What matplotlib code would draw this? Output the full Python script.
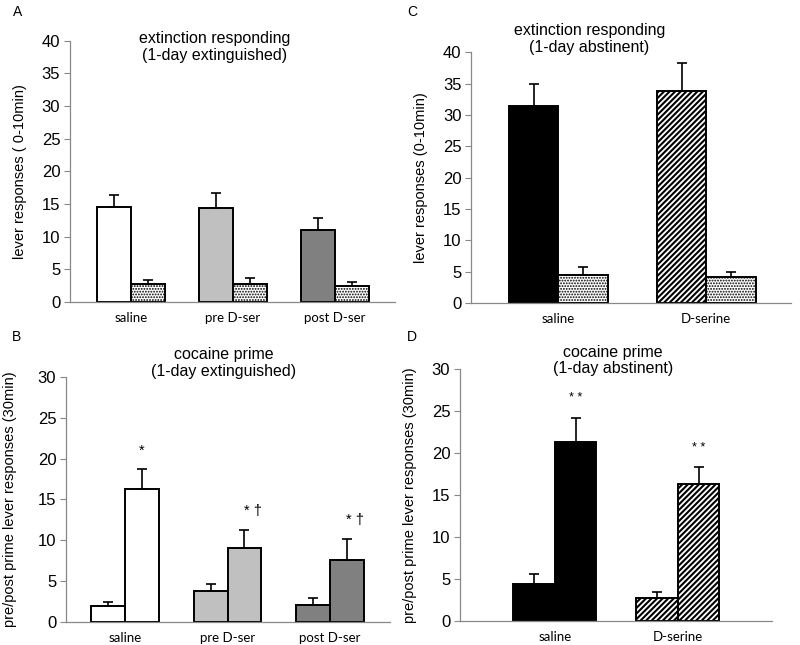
import matplotlib
matplotlib.use("Agg")
import matplotlib.pyplot as plt
import numpy as np

plt.rcParams['font.family'] = ['Liberation Sans', 'DejaVu Sans']
plt.rcParams['hatch.linewidth'] = 1.0

# ---- data ----
A_groups = ["saline", "pre D-ser", "post D-ser"]
A_active = [14.6, 14.4, 11.0]
A_active_err = [1.8, 2.2, 1.8]
A_inactive = [2.8, 2.8, 2.4]
A_inactive_err = [0.6, 0.8, 0.7]

C_groups = ["saline", "D-serine"]
C_active = [31.5, 33.9]
C_active_err = [3.4, 4.4]
C_inactive = [4.5, 4.2]
C_inactive_err = [1.2, 0.8]

B_groups = ["saline", "pre D-ser", "post D-ser"]
B_pre = [1.9, 3.8, 2.1]
B_pre_err = [0.6, 0.9, 0.8]
B_post = [16.3, 9.1, 7.6]
B_post_err = [2.4, 2.2, 2.6]
B_marks = ["*", "* \u2020", "* \u2020"]

D_groups = ["saline", "D-serine"]
D_pre = [4.4, 2.7]
D_pre_err = [1.2, 0.8]
D_post = [21.3, 16.3]
D_post_err = [2.9, 2.0]
D_marks = ["* *", "* *"]

A_colors = ["white", "#c0c0c0", "#808080"]
C_colors = ["black", "white"]
C_hatch = [None, "//////"]

fig = plt.figure(figsize=(8, 6.45), dpi=100)

def style_axes(ax, ymax, step, xlim, groups):
    ax.set_ylim(0, ymax)
    ax.set_yticks(np.arange(0, ymax + 0.1, step))
    ax.set_xlim(*xlim)
    ax.set_xticks(np.arange(len(groups)) + 0.5)
    ax.set_xticklabels(groups, fontfamily=['Lato', 'DejaVu Sans'], fontsize=9.5)
    ax.tick_params(axis='x', length=0, pad=7)
    ax.tick_params(axis='y', labelsize=12, length=4, color='#888888', width=0.8, pad=3)
    for s in ['top', 'right']:
        ax.spines[s].set_visible(False)
    for s in ['left', 'bottom']:
        ax.spines[s].set_color('#888888')
        ax.spines[s].set_linewidth(0.9)

def bars(ax, x, vals, errs, color, hatch=None, hlw=1.0):
    plt.rcParams['hatch.linewidth'] = hlw
    ax.bar(x, vals, width=w, align='edge', color=color, edgecolor='black',
           linewidth=1.4, hatch=hatch, zorder=2)
    ax.errorbar(np.array(x) + w / 2, vals, yerr=[np.zeros(len(vals)), errs],
                fmt='none', ecolor='black', elinewidth=1.2, capsize=3.5,
                capthick=1.2, zorder=3)

DOT = '......'
HLW = 1.5

# ---- Panel A ----
w = 0.333
axA = fig.add_axes([0.0875, 0.532, 0.406, 0.405])
xa = np.arange(3)
for i in range(3):
    bars(axA, [xa[i] + 0.5 - w], [A_active[i]], [A_active_err[i]], A_colors[i])
    bars(axA, [xa[i] + 0.5], [A_inactive[i]], [A_inactive_err[i]], 'white', DOT, 0.9)
style_axes(axA, 40, 5, (-0.1, 3.09), A_groups)
axA.set_ylabel("lever responses ( 0-10min)", fontsize=10.5)
axA.yaxis.set_label_coords(-0.132, 0.5)
axA.text(0.446, 1.035, "extinction responding\n(1-day extinguished)", transform=axA.transAxes,
         ha='center', va='top', fontsize=11.5, linespacing=1.1)
fig.text(13 / 800, 1 - 12 / 645, "A", fontsize=10, va='center')

# ---- Panel C ----
w = 0.334
axC = fig.add_axes([0.589, 0.530, 0.400, 0.389])
xc = np.arange(2)
for i in range(2):
    bars(axC, [xc[i] + 0.5 - w], [C_active[i]], [C_active_err[i]], C_colors[i], C_hatch[i], HLW)
    bars(axC, [xc[i] + 0.5], [C_inactive[i]], [C_inactive_err[i]], 'white', DOT, 0.9)
style_axes(axC, 40, 5, (-0.088, 2.074), C_groups)
axC.set_ylabel("lever responses (0-10min)", fontsize=10.5)
axC.yaxis.set_label_coords(-0.134, 0.5)
axC.text(0.37, 1.115, "extinction responding\n(1-day abstinent)", transform=axC.transAxes,
         ha='center', va='top', fontsize=11.5, linespacing=1.1)
fig.text(407 / 800, 1 - 12 / 645, "C", fontsize=10, va='center')

# ---- Panel B ----
w = 0.33
axB = fig.add_axes([0.0825, 0.0357, 0.405, 0.380])
xb = np.arange(3)
for i in range(3):
    bars(axB, [xb[i] + 0.5 - w], [B_pre[i]], [B_pre_err[i]], A_colors[i])
    bars(axB, [xb[i] + 0.5], [B_post[i]], [B_post_err[i]], A_colors[i])
    top = B_post[i] + B_post_err[i]
    axB.text(xb[i] + 0.5 + w / 2 + (0.08 if '\u2020' in B_marks[i] else 0), top + 1.4,
             B_marks[i], ha='center', va='bottom', fontsize=10.5,
             family=['Liberation Sans', 'DejaVu Sans'])
style_axes(axB, 30, 5, (-0.076, 3.085), B_groups)
axB.set_ylabel("pre/post prime lever responses (30min)", fontsize=10.5)
axB.yaxis.set_label_coords(-0.151, 0.5)
axB.text(0.486, 1.12, "cocaine prime\n(1-day extinguished)", transform=axB.transAxes,
         ha='center', va='top', fontsize=11.5, linespacing=1.1)
fig.text(12 / 800, 1 - 337 / 645, "B", fontsize=10, va='center')

# ---- Panel D ----
w = 0.337
axD = fig.add_axes([0.575, 0.0372, 0.390, 0.391])
xd = np.arange(2)
for i in range(2):
    bars(axD, [xd[i] + 0.5 - w], [D_pre[i]], [D_pre_err[i]], C_colors[i], C_hatch[i], HLW)
    bars(axD, [xd[i] + 0.5], [D_post[i]], [D_post_err[i]], C_colors[i], C_hatch[i], HLW)
    top = D_post[i] + D_post_err[i]
    axD.text(xd[i] + 0.5 + w / 2, top + 1.6, D_marks[i], ha='center', va='bottom',
             fontsize=9)
style_axes(axD, 30, 5, (-0.272, 2.265), D_groups)
axD.set_ylabel("pre/post prime lever responses (30min)", fontsize=10.5)
axD.yaxis.set_label_coords(-0.138, 0.5)
axD.text(0.49, 1.095, "cocaine prime\n(1-day abstinent)", transform=axD.transAxes,
         ha='center', va='top', fontsize=11.5, linespacing=1.1)
fig.text(407 / 800, 1 - 337 / 645, "D", fontsize=10, va='center')

fig.savefig("out.png", dpi=100)
